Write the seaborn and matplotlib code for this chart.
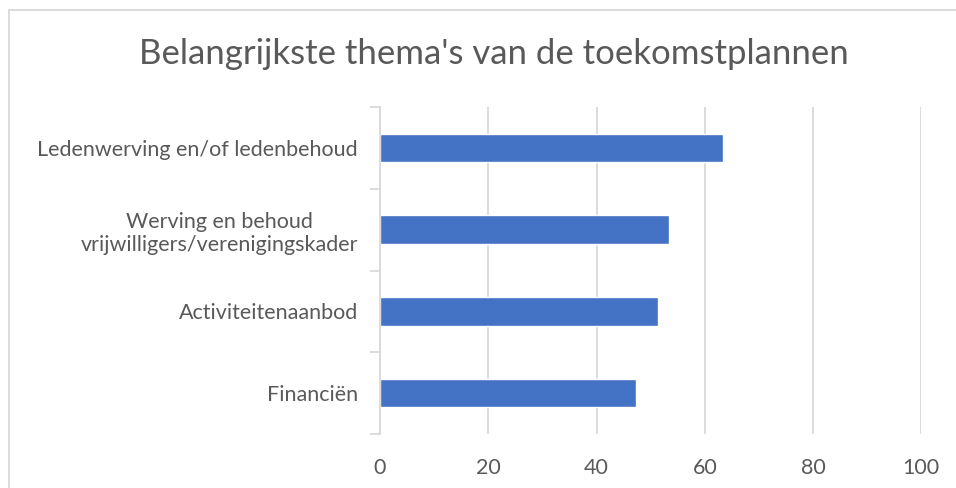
import matplotlib
matplotlib.use("Agg")
import matplotlib.pyplot as plt
import seaborn as sns
import pandas as pd
from matplotlib.patches import Rectangle

# data
categories = [
    "Ledenwerving en/of ledenbehoud",
    "Werving en behoud\nvrijwilligers/verenigingskader",
    "Activiteitenaanbod",
    "Financiën",
]
values = [63.4, 53.4, 51.4, 47.3]
x_ticks = [0, 20, 40, 60, 80, 100]

df = pd.DataFrame({"thema": categories, "pct": values})

sns.set_theme(style="white")
plt.rcParams["font.family"] = ["Lato", "DejaVu Sans"]

text_color = "#595959"
grid_color = "#d9d9d9"

fig = plt.figure(figsize=(9.56, 4.88), dpi=100)
ax = fig.add_axes([380 / 956, 1 - 434 / 488, (921.3 - 380) / 956, (434 - 107) / 488])

sns.barplot(data=df, y="thema", x="pct", orient="h", color="#4472C4",
            saturation=1, width=0.35, ax=ax)

ax.set_xlim(0, 100)
ax.set_ylim(len(categories) - 0.5, -0.5)
ax.set_xticks(x_ticks)
ax.set_xlabel("")
ax.set_ylabel("")

ax.grid(axis="x", color=grid_color, linewidth=1.3)
ax.set_axisbelow(True)
for s in ["top", "right", "bottom"]:
    ax.spines[s].set_visible(False)
ax.spines["left"].set_color(grid_color)
ax.spines["left"].set_linewidth(1.3)

ax.tick_params(axis="x", length=0, pad=17, labelsize=15.5, labelcolor=text_color)
ax.tick_params(axis="y", which="major", length=0, pad=16, labelsize=15.5, labelcolor=text_color)
for lbl in ax.get_yticklabels():
    lbl.set_multialignment("center")

# small tick marks between categories
ax.set_yticks([i - 0.5 for i in range(len(categories) + 1)], minor=True)
ax.tick_params(axis="y", which="minor", length=7, width=1.3, color=grid_color, left=True)

fig.text(494 / 956, 1 - 54 / 488, "Belangrijkste thema's van de toekomstplannen",
         ha="center", va="center", fontsize=25, color=text_color)

# outer chart frame
fig.patches.append(Rectangle((8.5 / 956, -0.1), 1.2, 1.1 - 9.5 / 488, transform=fig.transFigure,
                             fill=False, edgecolor=grid_color, linewidth=1.3))

fig.savefig("out.png", dpi=100)
